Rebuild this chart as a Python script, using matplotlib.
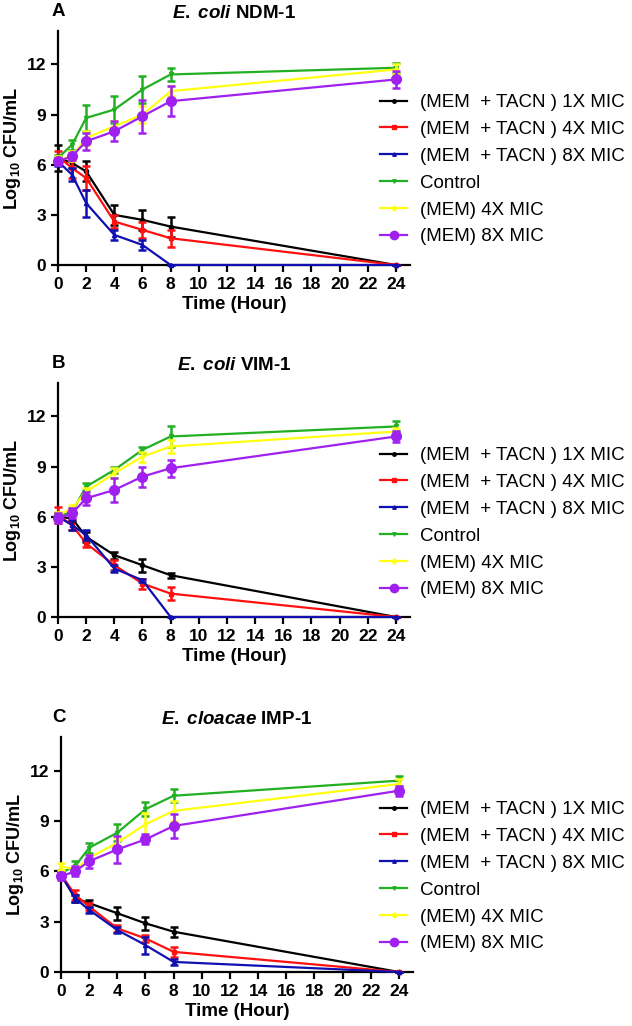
import matplotlib
matplotlib.use("Agg")
import matplotlib.pyplot as plt
from matplotlib.lines import Line2D

plt.rcParams['font.family'] = ['Liberation Sans', 'DejaVu Sans']
plt.rcParams['mathtext.fontset'] = 'custom'
plt.rcParams['mathtext.rm'] = 'Liberation Sans:bold'
plt.rcParams['mathtext.bf'] = 'Liberation Sans:bold'
plt.rcParams['mathtext.it'] = 'Liberation Sans:bold:italic'

# tiempos de muestreo (horas)
tiempos = [0, 1, 2, 4, 6, 8, 24]

etiquetas = ["(MEM  + TACN ) 1X MIC", "(MEM  + TACN ) 4X MIC", "(MEM  + TACN ) 8X MIC",
             "Control", "(MEM) 4X MIC", "(MEM) 8X MIC"]
colores = ["#000000", "#ff1010", "#1010b0", "#22b022", "#ffff10", "#a020f0"]
marcadores = ["o", "s", "^", "v", "D", "o"]
tam_marcador = [3, 3, 3, 3, 2, 7]

letras = ["A", "B", "C"]
cepas = ["E.\\;coli", "E.\\;coli", "E.\\;cloacae"]
codigos = ["NDM-1", "VIM-1", "IMP-1"]

# panel A - E. coli NDM-1
medias_a = [
    [6.4, 6.1, 5.6, 3.0, 2.7, 2.3, 0],
    [6.5, 5.8, 5.2, 2.6, 2.1, 1.6, 0],
    [6.2, 5.4, 3.7, 1.8, 1.2, 0, 0],
    [6.4, 7.2, 8.8, 9.3, 10.5, 11.4, 11.8],
    [6.3, 6.5, 7.6, 8.3, 9.0, 10.4, 11.7],
    [6.2, 6.5, 7.4, 8.0, 8.9, 9.8, 11.1],
]
errores_a = [
    [0.8, 0.3, 0.6, 0.6, 0.6, 0.6, 0],
    [0.3, 0.6, 0.7, 0.4, 0.5, 0.5, 0],
    [0.3, 0.4, 0.8, 0.3, 0.3, 0, 0],
    [0.2, 0.3, 0.8, 0.8, 0.8, 0.4, 0.3],
    [0.2, 0.3, 0.4, 0.3, 0.5, 0.3, 0.3],
    [0.2, 0.2, 0.5, 0.6, 1.0, 0.9, 0.5],
]

# panel B - E. coli VIM-1
medias_b = [
    [6.0, 5.9, 4.8, 3.7, 3.1, 2.5, 0],
    [6.1, 5.5, 4.4, 3.1, 2.0, 1.4, 0],
    [6.0, 5.5, 4.9, 2.9, 2.2, 0, 0],
    [6.0, 6.3, 7.8, 8.8, 10.0, 10.8, 11.4],
    [6.1, 6.5, 7.5, 8.6, 9.6, 10.2, 11.1],
    [5.9, 6.2, 7.1, 7.6, 8.4, 8.9, 10.8],
]
errores_b = [
    [0.2, 0.2, 0.3, 0.2, 0.4, 0.15, 0],
    [0.5, 0.3, 0.2, 0.3, 0.3, 0.4, 0],
    [0.2, 0.3, 0.3, 0.2, 0.1, 0, 0],
    [0.2, 0.2, 0.2, 0.2, 0.2, 0.6, 0.3],
    [0.2, 0.2, 0.2, 0.3, 0.3, 0.4, 0.2],
    [0.3, 0.3, 0.4, 0.7, 0.6, 0.5, 0.3],
]

# panel C - E. cloacae IMP-1
medias_c = [
    [5.8, 4.4, 4.1, 3.5, 2.9, 2.4, 0],
    [5.8, 4.6, 3.9, 2.6, 2.0, 1.2, 0],
    [5.8, 4.4, 3.7, 2.5, 1.6, 0.6, 0],
    [5.9, 6.3, 7.4, 8.3, 9.7, 10.5, 11.4],
    [6.3, 6.1, 6.8, 7.7, 8.8, 9.6, 11.2],
    [5.7, 6.0, 6.6, 7.3, 7.9, 8.7, 10.8],
]
errores_c = [
    [0.2, 0.2, 0.2, 0.4, 0.4, 0.3, 0],
    [0.2, 0.3, 0.2, 0.2, 0.2, 0.3, 0],
    [0.2, 0.2, 0.2, 0.2, 0.5, 0.2, 0],
    [0.2, 0.3, 0.3, 0.5, 0.4, 0.4, 0.3],
    [0.2, 0.2, 0.2, 0.3, 0.7, 0.6, 0.3],
    [0.2, 0.3, 0.4, 0.8, 0.3, 0.7, 0.3],
]

paneles = [(medias_a, errores_a), (medias_b, errores_b), (medias_c, errores_c)]

W, H = 632, 1026
fig = plt.figure(figsize=(W / 100, H / 100), dpi=100)

# posiciones en pixeles: izquierda, y del eje x, y del tope
cajas = [(58, 265, 31), (58, 617, 383), (61, 972, 737)]
leyenda_top = [94, 447, 801]

# muestras de la leyenda: solo linea y marcador, sin barras de error
muestras = [Line2D([], [], color=colores[k], marker=marcadores[k],
                   markersize=(2.5 if k < 5 else 6), lw=1.6)
            for k in range(6)]

for i, (medias, errores) in enumerate(paneles):
    izq, abajo, arriba = cajas[i]
    ax = fig.add_axes([izq / W, 1 - abajo / H, 352 / W, (abajo - arriba) / H])
    for k in range(6):
        ax.errorbar(tiempos, medias[k], yerr=errores[k], color=colores[k],
                    marker=marcadores[k], markersize=tam_marcador[k], lw=1.6,
                    elinewidth=1.8, capsize=3, capthick=1.8,
                    clip_on=False, zorder=3 + k)
    ax.set_xlim(0, 25)
    ax.set_ylim(0, 14)
    ax.set_xticks(range(0, 25, 2))
    ax.set_yticks([0, 3, 6, 9, 12])
    for s in ["top", "right"]:
        ax.spines[s].set_visible(False)
    for s in ["left", "bottom"]:
        ax.spines[s].set_linewidth(1.6)
    ax.tick_params(width=1.6, length=5, labelsize=12.5)
    for t in ax.get_xticklabels() + ax.get_yticklabels():
        t.set_fontweight("bold")
    ax.set_xlabel("Time (Hour)", fontsize=13.5, fontweight="bold", labelpad=3)
    ax.set_ylabel(r"Log$_{\mathbf{10}}$ CFU/mL", fontsize=13, fontweight="bold", labelpad=3)
    ax.set_title(r"$\mathit{%s}$ %s" % (cepas[i], codigos[i]), fontsize=13.5,
                 fontweight="bold", pad=9)
    fig.text(52 / W, 1 - (arriba - 19) / H, letras[i], fontsize=13.5,
             fontweight="bold", va="center", ha="left")
    ax.legend(muestras, etiquetas, loc="upper left",
              bbox_to_anchor=(380 / W, 1 - leyenda_top[i] / H),
              bbox_transform=fig.transFigure, frameon=False, fontsize=13.5,
              handlelength=1.45, handletextpad=0.7, labelspacing=0.52,
              borderpad=0, borderaxespad=0)

fig.savefig("out.png", dpi=100)
